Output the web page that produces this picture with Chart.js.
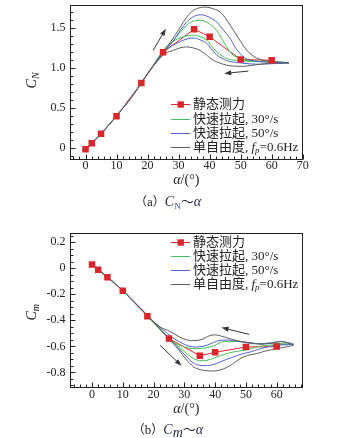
<!DOCTYPE html>
<html lang="zh">
  <head>
    <meta charset="UTF-8" />
    <meta name="viewport" content="width=device-width, initial-scale=1.0" />
    <title>C_N ~ α, C_m ~ α</title>

    <script src="https://cdn.jsdelivr.net/npm/chart.js"></script>
    <style>
      body {
        margin: 0;
        width: 340px;
        height: 438px;
        position: relative;
        overflow: hidden;
        background: #fff;
        color: #222;
        font-family: "Liberation Serif", "Noto Sans CJK SC", serif;
      }
      canvas {
        position: absolute;
        left: 0;
      }
      #cnChart {
        top: 0;
      }
      #cmChart {
        top: 215px;
      }
      .caption {
        position: absolute;
        left: 0;
        width: 336px;
        text-align: center;
        font-size: 13px;
        line-height: 16px;
        white-space: nowrap;
      }
      .caption .p {
        font-family: "Noto Sans CJK SC", sans-serif;
        font-size: 12px;
      }
      .caption .t {
        font-family: "Noto Sans CJK SC", sans-serif;
        font-size: 13px;
      }
      .caption i {
        font-size: 14px;
        color: #1f2540;
      }
      .caption sub {
        font-size: 9px;
        vertical-align: -3px;
        color: #2a4aa8;
      }
    </style>
  </head>
  <body>
    <canvas id="cnChart" width="340" height="192"></canvas>
    <div class="caption" style="top: 193px">
      <span class="p">（</span>a<span class="p">）</span><i>C</i><sub>N</sub><span class="t">～</span><i>α</i>
    </div>

    <canvas id="cmChart" width="340" height="205"></canvas>
    <div class="caption" style="top: 421px">
      <span class="p">（</span>b<span class="p">）</span><i>C</i><sub><i>m</i></sub><span class="t">～</span><i>α</i>
    </div>

    <script>
      // 静态测力 (static test points)
      const alphaStatic = [0, 2, 5, 10, 18, 25, 35, 40, 50, 60];
      const cnStatic = [-0.02, 0.055, 0.175, 0.395, 0.81, 1.195, 1.485, 1.39, 1.105, 1.095];
      const cmStatic = [0.03, -0.01, -0.068, -0.172, -0.368, -0.54, -0.672, -0.646, -0.605, -0.602];

      // dynamic loops: pitch up to ~65.5 deg, then back down
      // C_N, 快速拉起 30°/s
      const alphaCn30 = [0, 5, 10, 15, 20, 25, 28, 30.4, 32.5, 34.7, 38, 40, 42.3, 44, 45.5, 47, 48.8, 51, 53.1, 57, 61, 65.5,
        62, 58, 54, 49.8, 47.5, 45.5, 44, 42.3, 40.5, 39.1, 37, 34.7, 31.5, 29, 27.2, 25, 22];
      const cn30 = [-0.02, 0.18, 0.4, 0.64, 0.93, 1.19, 1.33, 1.44, 1.53, 1.585, 1.59, 1.55, 1.47, 1.36, 1.26, 1.18, 1.13, 1.1, 1.09, 1.08, 1.075, 1.065,
        1.07, 1.075, 1.08, 1.09, 1.1, 1.117, 1.15, 1.2, 1.28, 1.346, 1.39, 1.41, 1.39, 1.35, 1.3, 1.22, 1.04];
      // C_N, 快速拉起 50°/s
      const alphaCn50 = [0, 5, 10, 15, 20, 25, 28, 30.4, 32.5, 34.7, 37, 39, 40.5, 42.3, 44.5, 46.6, 48.2, 49.8, 51.5, 53.1, 56, 59.5, 65.5,
        62, 59, 56.3, 53, 49.8, 47.5, 45.5, 44, 42.3, 40.5, 39.1, 37, 34.7, 31.5, 29, 27.2, 25, 22];
      const cn50 = [-0.02, 0.175, 0.4, 0.64, 0.93, 1.19, 1.32, 1.46, 1.57, 1.64, 1.665, 1.65, 1.62, 1.575, 1.47, 1.37, 1.26, 1.18, 1.12, 1.096, 1.08, 1.07, 1.06,
        1.055, 1.05, 1.046, 1.05, 1.063, 1.075, 1.09, 1.12, 1.16, 1.24, 1.305, 1.35, 1.375, 1.346, 1.3, 1.26, 1.2, 1.04];
      // C_N, 单自由度 fp=0.6Hz
      const alphaCnFree = [0, 5, 10, 15, 20, 25, 27.5, 30.4, 32.5, 34.7, 37, 39.1, 41.2, 43.4, 45.5, 47.7, 50, 52, 54, 56.3, 59, 61.7, 65.5,
        62, 59, 56.3, 53.5, 50.9, 48, 45.5, 43.3, 41.2, 39, 36.9, 34.7, 32.6, 30.4, 28, 26, 24, 22];
      const cnFree = [-0.03, 0.17, 0.4, 0.64, 0.93, 1.19, 1.33, 1.5, 1.63, 1.72, 1.755, 1.76, 1.74, 1.7, 1.6, 1.47, 1.33, 1.22, 1.15, 1.105, 1.085, 1.075, 1.065,
        1.06, 1.055, 1.046, 1.03, 1.02, 1.022, 1.034, 1.06, 1.096, 1.16, 1.22, 1.25, 1.263, 1.25, 1.215, 1.19, 1.12, 1.03];

      // C_m, 快速拉起 30°/s
      const alphaCm30 = [0, 5, 10, 15, 20, 25, 28, 30.8, 33, 35, 37.3, 40.5, 43.8, 46.5, 49.2, 52, 54.6, 58, 62, 65.5,
        62, 58, 54.6, 51, 47, 44.5, 42.7, 40.5, 38.3, 35.5, 32.9, 30, 27, 24, 21, 18];
      const cm30 = [0.03, -0.065, -0.17, -0.29, -0.41, -0.535, -0.6, -0.656, -0.695, -0.71, -0.708, -0.682, -0.656, -0.64, -0.631, -0.615, -0.6, -0.59, -0.585, -0.585,
        -0.58, -0.575, -0.58, -0.572, -0.562, -0.565, -0.562, -0.585, -0.605, -0.615, -0.618, -0.605, -0.575, -0.515, -0.445, -0.37];
      // C_m, 快速拉起 50°/s
      const alphaCm50 = [0, 5, 10, 15, 20, 25, 28, 30.8, 32.5, 34, 36, 38.3, 40, 41.6, 43.8, 45.9, 48.5, 51.3, 54.5, 57.8, 61, 65.5,
        61.5, 58, 55, 52.4, 49, 45.9, 43.5, 41.6, 39.5, 37.3, 35, 32.9, 30.5, 28.6, 26, 23, 20];
      const cm50 = [0.03, -0.065, -0.17, -0.29, -0.41, -0.54, -0.61, -0.682, -0.72, -0.741, -0.748, -0.746, -0.735, -0.72, -0.7, -0.682, -0.66, -0.644, -0.62, -0.6, -0.59, -0.585,
        -0.563, -0.575, -0.578, -0.58, -0.567, -0.554, -0.552, -0.554, -0.57, -0.592, -0.603, -0.605, -0.59, -0.567, -0.53, -0.47, -0.41];
      // C_m, 单自由度 fp=0.6Hz
      const alphaCmFree = [0, 5, 10, 15, 20, 25, 28, 30.8, 32.9, 34.5, 36.5, 39.4, 41.5, 43.8, 46, 48.1, 50.5, 53.5, 56.5, 60, 63, 65.5,
        63.5, 61.5, 59, 55, 52.4, 49, 45.9, 43, 41, 39.4, 37.5, 36, 33.5, 31, 28.6, 25.3, 22, 19];
      const cmFree = [0.03, -0.07, -0.17, -0.29, -0.41, -0.545, -0.62, -0.708, -0.755, -0.775, -0.785, -0.79, -0.782, -0.762, -0.73, -0.695, -0.67, -0.656, -0.635, -0.618, -0.605, -0.59,
        -0.575, -0.563, -0.572, -0.585, -0.575, -0.565, -0.549, -0.528, -0.515, -0.512, -0.525, -0.545, -0.556, -0.552, -0.53, -0.485, -0.45, -0.39];

      // direction arrows [alpha0, c0, alpha1, c1], head at the second point
      const cnArrows = [[21.8, 1.22, 25.9, 1.49], [52.5, 0.96, 44.7, 0.93]];
      const cmArrows = [[51.1, -0.508, 42.1, -0.456], [22.1, -0.592, 29.1, -0.75]];

      const legendLabels = [
        [["静态测力", "n"]],
        [["快速拉起, 30°/s", "n"]],
        [["快速拉起, 50°/s", "n"]],
        [["单自由度, ", "n"], ["f", "i"], ["p", "s"], ["=0.6Hz", "n"]],
      ];

      const RED = "#d9262b";
      const GREEN = "#45bf55";
      const BLUE = "#5262c8";
      const GRAY = "#5c5c5c";
      const INK = "#222";
      const SERIF = '"Liberation Serif", "Noto Sans CJK SC", serif';

      const pts = (xs, ys) => xs.map((x, i) => ({ x, y: ys[i] }));

      function drawRich(ctx, parts, x, y, size, align) {
        const fontOf = (k) =>
          k === "s"
            ? `italic ${Math.round(size * 0.68)}px ${SERIF}`
            : `${k === "i" ? "italic " : ""}${size}px ${SERIF}`;
        let w = 0;
        parts.forEach(([t, k]) => {
          ctx.font = fontOf(k);
          w += ctx.measureText(t).width;
        });
        let cx = align === "center" ? x - w / 2 : x;
        ctx.textAlign = "left";
        ctx.textBaseline = "middle";
        parts.forEach(([t, k]) => {
          ctx.font = fontOf(k);
          ctx.fillText(t, cx, k === "s" ? y + size * 0.28 : y);
          cx += ctx.measureText(t).width;
        });
      }

      // frame, inward ticks, axis titles, arrows and legend
      const decor = {
        id: "decor",
        afterDatasetsDraw(chart, args, o) {
          const { ctx, scales: { x, y } } = chart;
          ctx.save();
          ctx.strokeStyle = "#333";
          ctx.fillStyle = "#333";
          ctx.lineWidth = 1;
          o.arrows.forEach(([a0, v0, a1, v1]) => {
            const x0 = x.getPixelForValue(a0), y0 = y.getPixelForValue(v0);
            const x1 = x.getPixelForValue(a1), y1 = y.getPixelForValue(v1);
            const t = Math.atan2(y1 - y0, x1 - x0), c = Math.cos(t), s = Math.sin(t);
            ctx.beginPath();
            ctx.moveTo(x0, y0);
            ctx.lineTo(x1 - 5 * c, y1 - 5 * s);
            ctx.stroke();
            ctx.beginPath();
            ctx.moveTo(x1, y1);
            ctx.lineTo(x1 - 7 * c - 2.5 * s, y1 - 7 * s + 2.5 * c);
            ctx.lineTo(x1 - 7 * c + 2.5 * s, y1 - 7 * s - 2.5 * c);
            ctx.closePath();
            ctx.fill();
          });
          ctx.restore();
        },
        afterDraw(chart, args, o) {
          const { ctx, chartArea: a, scales: { x, y } } = chart;
          ctx.save();
          ctx.strokeStyle = INK;
          ctx.lineWidth = 1;
          const L = Math.round(a.left) + 0.5, R = Math.round(a.right) - 0.5;
          const T = Math.round(a.top) + 0.5, B = Math.round(a.bottom) - 0.5;
          ctx.strokeRect(L, T, R - L, B - T);

          ctx.beginPath();
          for (let k = Math.ceil(x.min / 2); k * 2 <= x.max; k++) {
            const px = Math.round(x.getPixelForValue(k * 2)) + 0.5;
            ctx.moveTo(px, B);
            ctx.lineTo(px, B - (k % 5 === 0 ? 5 : 3));
          }
          const n = Math.round(o.yMajor / o.yMinor);
          for (let k = Math.ceil(y.min / o.yMinor); k * o.yMinor <= y.max; k++) {
            const py = Math.round(y.getPixelForValue(k * o.yMinor)) + 0.5;
            ctx.moveTo(L, py);
            ctx.lineTo(L + (k % n === 0 ? 5 : 3), py);
          }
          ctx.stroke();

          ctx.fillStyle = INK;
          drawRich(ctx, [["α", "i"], ["/(°)", "n"]], (a.left + a.right) / 2, a.bottom + o.xTitleGap, 14, "center");
          ctx.save();
          ctx.translate(o.yTitleX, (a.top + a.bottom) / 2 + o.yTitleShift);
          ctx.rotate(-Math.PI / 2);
          drawRich(ctx, o.yTitle, 0, 0, 14, "center");
          ctx.restore();

          // legend: first four datasets, static entry gets its square marker
          chart.data.datasets.slice(0, 4).forEach((ds, i) => {
            const yy = Math.round(a.top + o.legendTop + i * 14.2) + 0.5;
            const x0 = a.left + 101;
            ctx.strokeStyle = ds.borderColor;
            ctx.beginPath();
            ctx.moveTo(x0, yy);
            ctx.lineTo(x0 + 19, yy);
            ctx.stroke();
            if (i === 0) {
              ctx.fillStyle = ds.borderColor;
              ctx.fillRect(x0 + 6.5, yy - 3.2, 6.4, 6.4);
            }
            ctx.fillStyle = INK;
            drawRich(ctx, legendLabels[i], x0 + 22, yy, 13, "left");
          });
          ctx.restore();
        },
      };

      const fixBox = (w, h) => (s) => {
        if (w != null) s.width = w;
        if (h != null) s.height = h;
        s.paddingLeft = s.paddingRight = s.paddingTop = s.paddingBottom = 0;
      };

      // higher "order" is painted first (underneath)
      const lineSet = (label, xs, ys, color, order) => ({
        label,
        data: pts(xs, ys),
        order,
        showLine: true,
        borderColor: color,
        backgroundColor: color,
        borderWidth: 1,
        pointRadius: 0,
        tension: 0.35,
      });

      // static line sits under the dynamic curves, its squares on top of everything
      const staticSets = (ys) => [
        { ...lineSet("静态测力", alphaStatic, ys, RED, 4), tension: 0 },
        {
          label: "静态测力 points",
          data: pts(alphaStatic, ys),
          order: 0,
          showLine: false,
          backgroundColor: RED,
          pointStyle: "rect",
          pointRadius: 4.6,
          pointBorderWidth: 0,
        },
      ];

      const tickFont = { family: SERIF, size: 12, lineHeight: 1 };
      const tickLabel = (v) => (v === 0 ? "0" : v.toFixed(1));

      function makeChart(id, opt) {
        return new Chart(document.getElementById(id), {
          type: "scatter",
          data: { datasets: opt.datasets },
          options: {
            responsive: false,
            animation: false,
            devicePixelRatio: 1,
            events: [],
            layout: { padding: opt.padding },
            plugins: {
              legend: { display: false },
              tooltip: { enabled: false },
              decor: opt.decor,
            },
            scales: {
              x: {
                type: "linear",
                min: opt.xMin,
                max: opt.xMax,
                afterFit: fixBox(null, opt.xBox),
                grid: { display: false, drawTicks: false },
                border: { display: false },
                ticks: {
                  stepSize: 10,
                  includeBounds: false,
                  autoSkip: false,
                  maxRotation: 0,
                  padding: opt.xPad,
                  color: INK,
                  font: tickFont,
                },
              },
              y: {
                type: "linear",
                min: opt.yMin,
                max: opt.yMax,
                afterFit: fixBox(70, null),
                grid: { display: false, drawTicks: false },
                border: { display: false },
                ticks: {
                  stepSize: opt.decor.yMajor,
                  includeBounds: false,
                  padding: 4.5,
                  color: INK,
                  font: tickFont,
                  callback: tickLabel,
                },
              },
            },
          },
          plugins: [decor],
        });
      }

      const [cnLine, cnPoints] = staticSets(cnStatic);
      makeChart("cnChart", {
        datasets: [
          cnLine,
          lineSet("快速拉起, 30°/s", alphaCn30, cn30, GREEN, 3),
          lineSet("快速拉起, 50°/s", alphaCn50, cn50, BLUE, 2),
          lineSet("单自由度, fp=0.6Hz", alphaCnFree, cnFree, GRAY, 1),
          cnPoints,
        ],
        padding: { left: 0, top: 4.3, right: 37.3, bottom: 0 },
        xMin: -5,
        xMax: 70,
        xBox: 192 - 160.3,
        xPad: -0.5,
        yMin: -0.1575,
        yMax: 1.7925,
        decor: {
          yMajor: 0.5,
          yMinor: 0.1,
          arrows: cnArrows,
          xTitleGap: 20,
          yTitle: [["C", "i"], ["N", "s"]],
          yTitleX: 32.5,
          yTitleShift: -2,
          legendTop: 99.7,
        },
      });

      const [cmLine, cmPoints] = staticSets(cmStatic);
      makeChart("cmChart", {
        datasets: [
          cmLine,
          lineSet("快速拉起, 30°/s", alphaCm30, cm30, GREEN, 3),
          lineSet("快速拉起, 50°/s", alphaCm50, cm50, BLUE, 2),
          lineSet("单自由度, fp=0.6Hz", alphaCmFree, cmFree, GRAY, 1),
          cmPoints,
        ],
        padding: { left: 0, top: 17.7, right: 37.3, bottom: 0 },
        xMin: -7.15,
        xMax: 68.45,
        xBox: 205 - 172.7,
        xPad: 1.5,
        yMin: -0.918,
        yMax: 0.274,
        decor: {
          yMajor: 0.2,
          yMinor: 0.05,
          arrows: cmArrows,
          xTitleGap: 22,
          yTitle: [["C", "i"], ["m", "s"]],
          yTitleX: 32.5,
          yTitleShift: 2,
          legendTop: 8.8,
        },
      });
    </script>
  </body>
</html>
